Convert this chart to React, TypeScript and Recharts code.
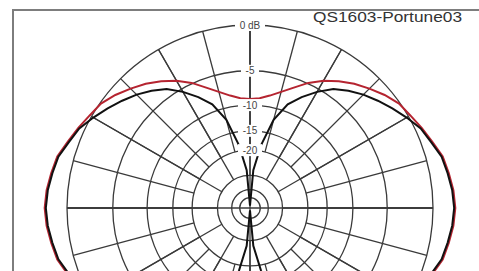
import { RadarChart, Radar, PolarGrid, PolarAngleAxis, PolarRadiusAxis } from "recharts";

// measurement angle, degrees clockwise from the top (0 = front)
const ANGLES = [
  0, 5, 10, 15, 20, 25, 30, 35, 40, 45, 50, 55, 60, 65, 70, 75, 80, 85,
  90, 95, 100, 105, 110, 115, 120, 125, 130, 135, 140, 145, 150, 155, 160, 165, 170, 175,
  180, 185, 190, 195, 200, 205, 210, 215, 220, 225, 230, 235, 240, 245, 250, 255, 260, 265,
  270, 275, 280, 285, 290, 295, 300, 305, 310, 315, 320, 325, 330, 335, 340, 345, 350, 355,
];

// figure-8 response (black), dB
const BLACK_DB = [
  -75, -27.3, -18.3, -12.1, -8.8, -7.0, -5.4, -4.0, -3.1, -2.3, -1.6, -0.9, -0.2, 0.5, 0.9, 1.4, 1.6, 1.8,
  1.9, 1.8, 1.6, 1.4, 0.9, 0.5, -0.2, -0.9, -1.6, -2.3, -3.1, -4.0, -5.4, -7.0, -8.8, -12.1, -18.3, -27.3,
  -75, -27.3, -18.3, -12.1, -8.8, -7.0, -5.4, -4.0, -3.1, -2.3, -1.6, -0.9, -0.2, 0.5, 0.9, 1.4, 1.6, 1.8,
  1.9, 1.8, 1.6, 1.4, 0.9, 0.5, -0.2, -0.9, -1.6, -2.3, -3.1, -4.0, -5.4, -7.0, -8.8, -12.1, -18.3, -27.3,
];

// wide response (red), dB
const RED_DB = [
  -9.0, -8.8, -8.2, -7.3, -6.2, -4.9, -3.8, -2.9, -2.1, -1.4, -0.7, -0.1, 0.2, 0.6, 1.0, 1.5, 1.7, 1.9,
  2.0, 1.9, 1.7, 1.5, 1.0, 0.6, 0.2, -0.1, -0.7, -1.4, -2.1, -2.9, -3.8, -4.9, -6.2, -7.3, -8.2, -8.8,
  -9.0, -8.8, -8.2, -7.3, -6.2, -4.9, -3.8, -2.9, -2.1, -1.4, -0.7, -0.1, 0.2, 0.6, 1.0, 1.5, 1.7, 1.9,
  2.0, 1.9, 1.7, 1.5, 1.0, 0.6, 0.2, -0.1, -0.7, -1.4, -2.1, -2.9, -3.8, -4.9, -6.2, -7.3, -8.2, -8.8,
];

const RING_DB = [0, -5, -10, -15, -20, -30, -40, -50];
const RING_LABELS = ["0 dB", "-5", "-10", "-15", "-20", "", "", ""];
const TITLE = "QS1603-Portune03";

const toAmp = (db: number) => Math.pow(10, db / 20);

const data = ANGLES.map((angle, i) => ({
  angle,
  black: toAmp(BLACK_DB[i]),
  red: toAmp(RED_DB[i]),
}));

const W = 479;
const H = 271;
const CX = 250;
const CY = 208;
const R = 183;
const GRID = "#3a3a3a";
const NO_MARGIN = { top: 0, right: 0, bottom: 0, left: 0 };

// spokes that stop short of the centre, like the original plot
const SPOKES_15 = Array.from({ length: 24 }, (_, i) => i * 15);
const SPOKES_30 = Array.from({ length: 12 }, (_, i) => i * 30);
const ringPx = (db: number) => R * Math.sqrt(toAmp(db));

const layer: React.CSSProperties = { position: "absolute", left: 0, top: 0 };

const RingTick = (props: any) => {
  const { x, y, payload } = props;
  const db = Math.round(20 * Math.log10(payload.value));
  const label = RING_LABELS[RING_DB.indexOf(db)];
  if (!label) return <g />;
  const w = label.length * 6 + 6;
  return (
    <g>
      <rect x={x - w / 2} y={y - 6} width={w} height={12} fill="#fff" />
      <text x={x} y={y + 3.5} textAnchor="middle" fontSize={10} fill="#444" fontFamily="'Liberation Sans', Arial, sans-serif">
        {label}
      </text>
    </g>
  );
};

function SpokeLayer({ angles, inner }: { angles: number[]; inner: number }) {
  return (
    <div style={layer}>
      <RadarChart width={W} height={H} cx={CX} cy={CY} innerRadius={inner} outerRadius={R} data={data} margin={NO_MARGIN}>
        <PolarGrid gridType="circle" polarAngles={angles} polarRadius={[]} stroke={GRID} strokeWidth={1.3} />
      </RadarChart>
    </div>
  );
}

export default function App() {
  return (
    <div style={{ position: "absolute", left: 0, top: 0, width: W, height: H, overflow: "hidden", background: "#fff" }}>
      <svg width={W} height={H} style={layer}>
        <rect x={13} y={10} width={600} height={400} fill="none" stroke="#7d7d7d" strokeWidth={2} />
        <text x={313} y={22} fontSize={14} fill="#333" fontFamily="'Liberation Sans', Arial, sans-serif" textLength={149} lengthAdjust="spacingAndGlyphs">
          {TITLE}
        </text>
      </svg>
      <SpokeLayer angles={SPOKES_30} inner={ringPx(-30)} />
      <SpokeLayer angles={SPOKES_15} inner={ringPx(-20)} />
      <div style={layer}>
        <RadarChart width={W} height={H} cx={CX} cy={CY} outerRadius={R} data={data} startAngle={90} endAngle={-270} margin={NO_MARGIN}>
          <PolarGrid gridType="circle" polarAngles={[0, 90, 180, 270]} stroke={GRID} strokeWidth={1.3} />
          <PolarAngleAxis dataKey="angle" tick={false} axisLine={false} tickLine={false} />
          <PolarRadiusAxis
            type="number"
            scale="sqrt"
            domain={[0, 1]}
            allowDataOverflow
            angle={90}
            ticks={RING_DB.map(toAmp)}
            tick={RingTick}
            axisLine={false}
            tickLine={false}
          />
          <Radar dataKey="red" stroke="#b52430" strokeWidth={2} fill="none" fillOpacity={0} dot={false} isAnimationActive={false} />
          <Radar dataKey="black" stroke="#111" strokeWidth={2} fill="none" fillOpacity={0} dot={false} isAnimationActive={false} />
        </RadarChart>
      </div>
    </div>
  );
}
